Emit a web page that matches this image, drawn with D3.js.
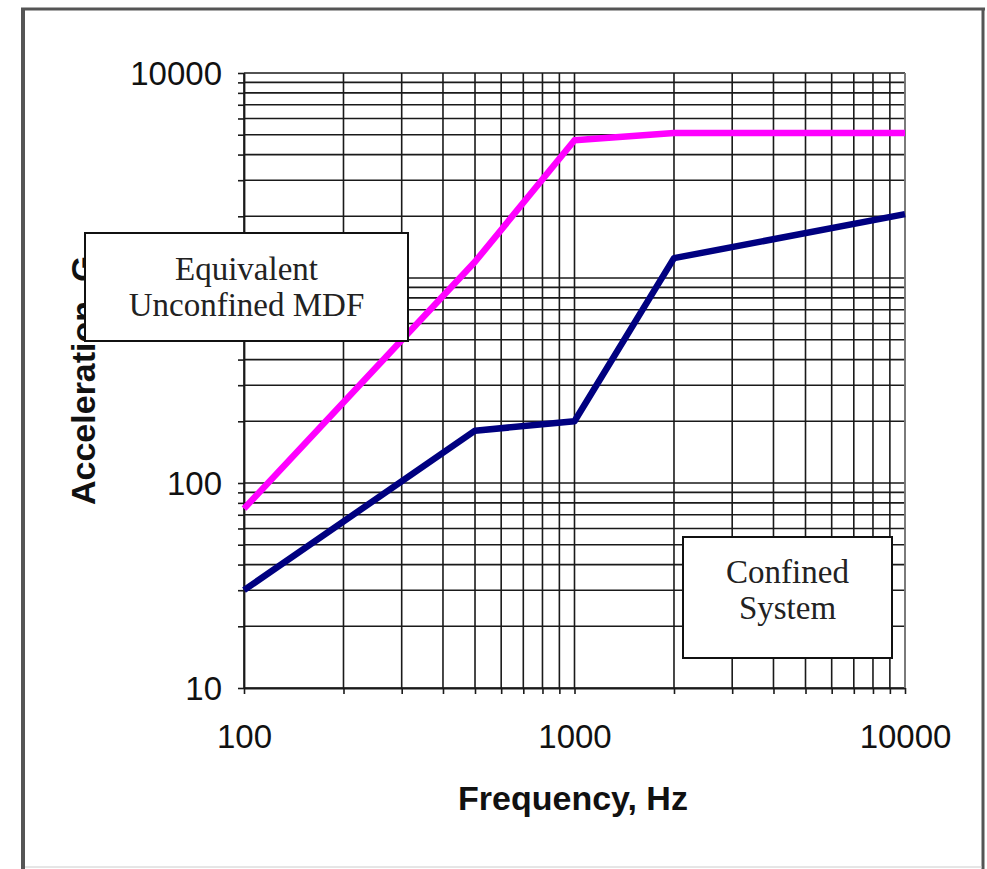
<!DOCTYPE html>
<html>
<head>
<meta charset="utf-8">
<script src="https://cdn.jsdelivr.net/npm/d3@7"></script>
<style>
  body { margin: 0; background: #fff; }
  svg { display: block; }
</style>
</head>
<body>
<div id="chart"></div>
<script>
// data
const freqs = [100, 500, 1000, 2000, 10000];
const unconfined = [75, 1200, 4700, 5100, 5100];
const confined = [30, 180, 200, 1250, 2050];
const xTickLabels = [100, 1000, 10000];
const yTickLabels = [10, 100, 10000];

const W = 987, H = 869;
const margin = { top: 73, right: 82, bottom: 181, left: 244 };
const width = W - margin.left - margin.right;
const height = H - margin.top - margin.bottom;

const svg = d3.select("#chart")
    .append("svg")
        .attr("width", W)
        .attr("height", H);

svg.append("rect").attr("width", W).attr("height", H).attr("fill", "#fff");

// outer frame
const frame = svg.append("g");
frame.append("line").attr("x1", 23).attr("x2", 23).attr("y1", 8).attr("y2", 869)
    .attr("stroke", "#555").attr("stroke-width", 4);
frame.append("line").attr("x1", 21).attr("x2", 985).attr("y1", 9).attr("y2", 9)
    .attr("stroke", "#555").attr("stroke-width", 3);
frame.append("line").attr("x1", 983).attr("x2", 983).attr("y1", 8).attr("y2", 869)
    .attr("stroke", "#555").attr("stroke-width", 3);
frame.append("line").attr("x1", 25).attr("x2", 982).attr("y1", 867).attr("y2", 867)
    .attr("stroke", "#ccc").attr("stroke-width", 1);

const g = svg.append("g").attr("transform", `translate(${margin.left},${margin.top})`);

const x = d3.scaleLog().domain([100, 10000]).range([0, width]);
const y = d3.scaleLog().domain([10, 10000]).range([height, 0]);

// grid
g.append("g")
    .selectAll("line")
    .data(x.ticks())
    .join("line")
        .attr("x1", d => x(d)).attr("x2", d => x(d))
        .attr("y1", 0).attr("y2", height)
        .attr("stroke", "#1a1a1a").attr("stroke-width", 1.6);

g.append("g")
    .selectAll("line")
    .data(y.ticks())
    .join("line")
        .attr("x1", 0).attr("x2", width)
        .attr("y1", d => y(d)).attr("y2", d => y(d))
        .attr("stroke", "#1a1a1a").attr("stroke-width", 1.6);

// axes
const xAxis = g.append("g")
    .attr("transform", `translate(0,${height})`)
    .call(d3.axisBottom(x).tickValues(x.ticks()).tickFormat(d => (xTickLabels.includes(d) ? d : "")).tickSize(6).tickSizeOuter(0).tickPadding(31));

const yAxis = g.append("g")
    .call(d3.axisLeft(y).tickValues(y.ticks()).tickFormat(d => (yTickLabels.includes(d) ? d : "")).tickSize(6).tickSizeOuter(0).tickPadding(16));

[xAxis, yAxis].forEach(a => {
    a.select(".domain").attr("stroke", "#1a1a1a").attr("stroke-width", 1.8);
    a.selectAll(".tick line").attr("stroke", "#1a1a1a").attr("stroke-width", 1.6);
    a.selectAll("text")
        .attr("fill", "#111")
        .style("font-family", "'Liberation Sans', Arial, sans-serif")
        .style("font-size", "33px");
});
yAxis.selectAll("text").attr("dy", "0.36em");

// right edge of plot
g.append("line")
    .attr("x1", width).attr("x2", width).attr("y1", 0).attr("y2", height)
    .attr("stroke", "#888").attr("stroke-width", 1.6);

// series
const line = d3.line()
    .x((d, i) => x(freqs[i]))
    .y(d => y(d));

g.append("path")
    .datum(unconfined)
    .attr("d", line)
    .attr("fill", "none")
    .attr("stroke", "#ff00ff")
    .attr("stroke-width", 6.5)
    .attr("stroke-linejoin", "round");

g.append("path")
    .datum(confined)
    .attr("d", line)
    .attr("fill", "none")
    .attr("stroke", "#000080")
    .attr("stroke-width", 6.5)
    .attr("stroke-linejoin", "round");

// axis titles
svg.append("text")
    .text("Frequency, Hz")
    .attr("x", 573)
    .attr("y", 810)
    .attr("text-anchor", "middle")
    .style("font-family", "'Liberation Sans', Arial, sans-serif")
    .style("font-weight", "bold")
    .style("font-size", "34px")
    .attr("fill", "#111");

svg.append("text")
    .text("Acceleration, G")
    .attr("transform", "translate(95,505) rotate(-90)")
    .attr("text-anchor", "start")
    .style("font-family", "'Liberation Sans', Arial, sans-serif")
    .style("font-weight", "bold")
    .style("font-size", "34px")
    .attr("fill", "#111");

// annotation boxes
const boxes = [
    { x0: 85, y0: 233, x1: 408, y1: 341, lines: ["Equivalent", "Unconfined MDF"], base: 280 },
    { x0: 683, y0: 537, x1: 892, y1: 658, lines: ["Confined", "System"], base: 583 }
];

boxes.forEach(b => {
    svg.append("rect")
        .attr("x", b.x0).attr("y", b.y0)
        .attr("width", b.x1 - b.x0).attr("height", b.y1 - b.y0)
        .attr("fill", "#fff")
        .attr("stroke", "#111")
        .attr("stroke-width", 2);
    svg.append("g")
        .selectAll("text")
        .data(b.lines)
        .join("text")
            .text(d => d)
            .attr("x", (b.x0 + b.x1) / 2)
            .attr("y", (d, i) => b.base + i * 36)
            .attr("text-anchor", "middle")
            .style("font-family", "'Liberation Serif', 'Times New Roman', serif")
            .style("font-size", "33px")
            .attr("fill", "#222");
});
</script>
</body>
</html>
